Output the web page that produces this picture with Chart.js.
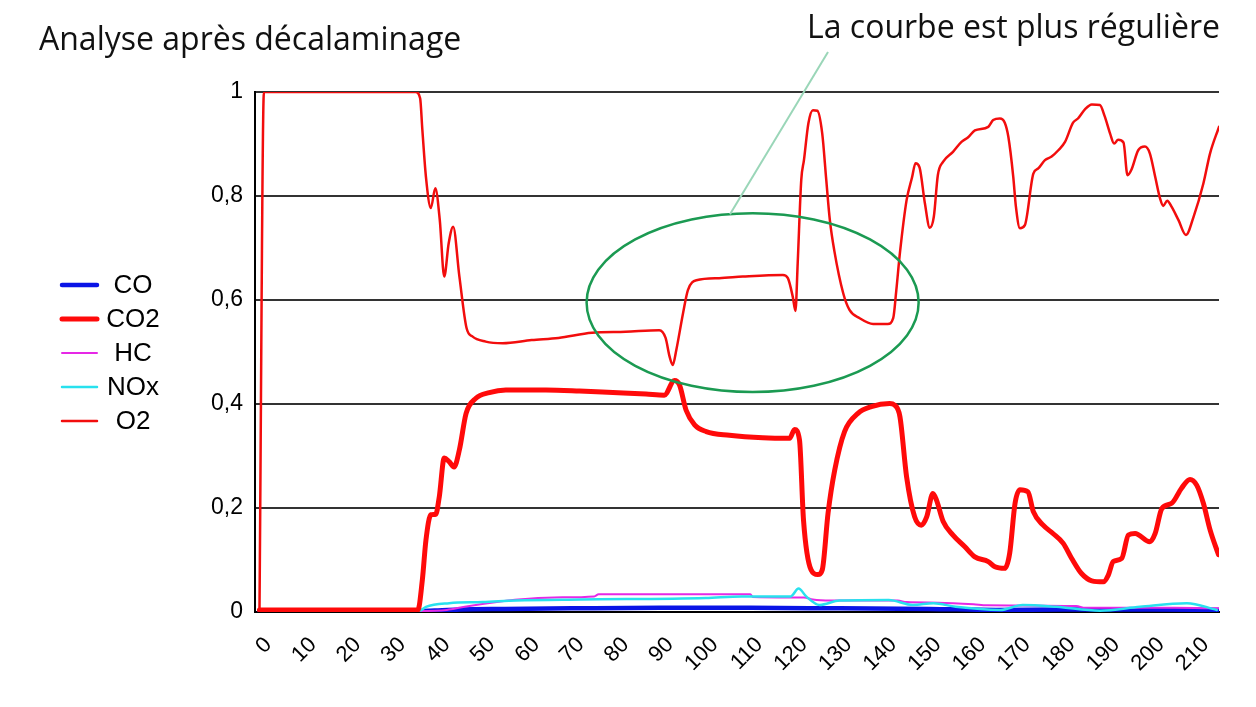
<!DOCTYPE html>
<html>
<head>
<meta charset="utf-8">
<script src="https://cdn.jsdelivr.net/npm/chart.js@4.4.0/dist/chart.umd.min.js"></script>
<style>
  body { margin: 0; background: #fff; }
  #wrap { position: relative; width: 1256px; height: 707px; }
  .note { position: absolute; font-family: "Open Sans", sans-serif; font-size: 32px; color: #111; white-space: nowrap; }
</style>
</head>
<body>
<div id="wrap">
  <canvas id="chart"></canvas>
  <div class="note" style="left:39px; top:16px">Analyse après décalaminage</div>
  <div class="note" style="left:807px; top:4px">La courbe est plus régulière</div>
</div>
<script>
// time (s) / value pairs
const xTicks = [0, 10, 20, 30, 40, 50, 60, 70, 80, 90, 100, 110, 120, 130, 140, 150, 160, 170, 180, 190, 200, 210];
const yTicks = [0, 0.2, 0.4, 0.6, 0.8, 1];

const co = [[0, 0.002], [36, 0.002], [40, 0.003], [45, 0.005], [55, 0.006], [70, 0.007], [90, 0.008],
  [110, 0.008], [130, 0.007], [150, 0.006], [165, 0.004], [180, 0.005], [200, 0.005], [215, 0.004]];

const co2 = [[0, 0.004], [35.5, 0.004], [36.5, 0.062], [37.3, 0.138], [38.4, 0.187], [39.5, 0.188], [40.3, 0.222],
  [41.4, 0.296], [42.5, 0.289], [43.6, 0.279], [44.8, 0.312], [46.3, 0.382], [48.5, 0.411], [51.5, 0.422],
  [55.2, 0.427], [64.2, 0.427], [71.7, 0.425], [79.2, 0.422], [86.6, 0.419], [90.7, 0.417], [93, 0.445],
  [94.1, 0.437], [95.6, 0.388], [97.5, 0.36], [100.1, 0.347], [105.3, 0.34], [112.8, 0.335], [118.8, 0.334],
  [119.9, 0.351], [121, 0.331], [121.9, 0.177], [123.6, 0.081], [125.1, 0.072], [126.1, 0.081], [127.4, 0.19],
  [128.9, 0.273], [131.1, 0.347], [134.1, 0.382], [137.1, 0.395], [141.2, 0.401], [142.3, 0.398], [143.5, 0.376],
  [145, 0.26], [146.8, 0.183], [148.3, 0.167], [149.5, 0.183], [150.9, 0.228], [151.7, 0.215], [153.2, 0.174],
  [155.4, 0.148], [158, 0.126], [160.3, 0.106], [163.3, 0.097], [164.8, 0.087], [167, 0.084], [168.1, 0.113],
  [169.3, 0.209], [170.4, 0.235], [172.2, 0.231], [173.4, 0.193], [175.6, 0.167], [177.8, 0.151], [180.1, 0.132],
  [182, 0.103], [184.2, 0.074], [186.5, 0.06], [189.1, 0.058], [190.2, 0.071], [191.3, 0.097], [193.2, 0.103],
  [194.7, 0.148], [196.2, 0.151], [199.5, 0.135], [200.7, 0.151], [202.2, 0.199], [204.4, 0.209], [206.6, 0.238],
  [208.5, 0.255], [210, 0.244], [211.5, 0.209], [213, 0.158], [214.9, 0.11]];

const hc = [[0, 0.002], [36, 0.002], [42, 0.004], [46, 0.01], [54, 0.02], [58, 0.024], [66, 0.028], [75, 0.03],
  [76, 0.034], [110, 0.034], [110.5, 0.029], [122, 0.028], [124, 0.024], [128, 0.022], [143, 0.022], [145, 0.019],
  [152, 0.018], [160, 0.015], [163, 0.013], [183, 0.0115], [185, 0.008], [205, 0.008], [215, 0.007]];

const nox = [[0, 0.003], [36, 0.003], [37.3, 0.01], [42.5, 0.017], [50, 0.019], [57.5, 0.022], [72, 0.024],
  [100, 0.027], [108, 0.03], [119, 0.03], [120.8, 0.045], [122.5, 0.03], [125.5, 0.0135], [130, 0.022],
  [141, 0.023], [146.4, 0.0135], [151, 0.017], [156, 0.01], [166, 0.004], [171, 0.0135], [178.6, 0.01],
  [188.3, 0.0025], [197.3, 0.01], [207.8, 0.017], [214.5, 0.004]];

const o2 = [[0, 0], [1, 1], [35, 1], [36, 0.988], [36.5, 0.927], [37.3, 0.837], [38.4, 0.777], [39.4, 0.815],
  [40.4, 0.754], [41.4, 0.645], [42.4, 0.709], [43.4, 0.741], [44.8, 0.645], [46.4, 0.546], [47.7, 0.53],
  [50.7, 0.52], [54.5, 0.517], [61, 0.523], [67, 0.527], [74.5, 0.537], [82, 0.539], [89.6, 0.542], [91, 0.527],
  [91.9, 0.491], [92.6, 0.475], [93.4, 0.504], [94.9, 0.574], [96, 0.619], [97.9, 0.638], [103, 0.642],
  [108.3, 0.645], [117.3, 0.648], [118.4, 0.642], [119.5, 0.606], [120.1, 0.579], [120.6, 0.671], [121.4, 0.831],
  [122, 0.869], [123, 0.94], [124, 0.965], [125, 0.964], [126.1, 0.92], [127, 0.831], [127.8, 0.754],
  [128.8, 0.695], [130.8, 0.613], [132.2, 0.581], [134.5, 0.565], [137.5, 0.554], [140.8, 0.554], [142, 0.565],
  [142.7, 0.619], [143.5, 0.69], [145, 0.792], [146.2, 0.835], [147, 0.863], [147.9, 0.855], [149.1, 0.786],
  [150.2, 0.739], [151.1, 0.76], [152, 0.84], [153.2, 0.866], [155.4, 0.885], [157.3, 0.904], [158.8, 0.913],
  [160.3, 0.926], [163.3, 0.933], [164.4, 0.946], [165.9, 0.949], [167, 0.941], [167.8, 0.914], [168.9, 0.837],
  [169.5, 0.779], [170.4, 0.738], [171.5, 0.744], [173.4, 0.843], [174.5, 0.853], [176, 0.869], [177.5, 0.876],
  [179, 0.888], [180.5, 0.904], [182.3, 0.941], [183.4, 0.949], [185, 0.967], [186.5, 0.976], [188.3, 0.975],
  [189.4, 0.953], [190.6, 0.92], [191.5, 0.901], [192.4, 0.908], [193.6, 0.903], [194.5, 0.84], [195.4, 0.851],
  [196.9, 0.888], [198.4, 0.895], [199.5, 0.882], [200.7, 0.837], [201.8, 0.795], [202.5, 0.781], [203.4, 0.791],
  [204.4, 0.779], [205.9, 0.754], [207.6, 0.725], [209.3, 0.76], [211.5, 0.824], [213, 0.882], [215, 0.933]];

const pts = arr => arr.map(p => ({ x: p[0], y: p[1] }));

// green ring around the steadier part of the O2 curve (data units)
const ring = { t: 110.5, v: 0.595, rt: 37.2, rv: 0.172 };

const ringPlugin = {
  id: 'ring',
  afterDatasetsDraw(chart) {
    const { x, y } = chart.scales;
    const c = chart.ctx;
    const cx = x.getPixelForValue(ring.t), cy = y.getPixelForValue(ring.v);
    const rx = x.getPixelForValue(ring.t + ring.rt) - cx;
    const ry = cy - y.getPixelForValue(ring.v + ring.rv);
    c.save();
    c.strokeStyle = '#1b9a52';
    c.lineWidth = 2.5;
    c.beginPath();
    c.ellipse(cx, cy, rx, ry, 0, 0, Math.PI * 2);
    c.stroke();
    // leader towards the caption
    c.strokeStyle = '#9ad6b8';
    c.lineWidth = 2;
    c.beginPath();
    c.moveTo(730, cy - ry + 1);
    c.lineTo(828, 52);
    c.stroke();
    c.restore();
  }
};

const sideLegend = {
  id: 'sideLegend',
  afterDraw(chart) {
    const c = chart.ctx;
    c.save();
    chart.data.datasets.forEach((ds, i) => {
      const yy = 285 + i * 34;
      c.strokeStyle = ds.borderColor;
      c.lineWidth = ds.borderWidth;
      c.lineCap = 'round';
      c.beginPath();
      c.moveTo(62, yy);
      c.lineTo(97, yy);
      c.stroke();
      c.fillStyle = '#000';
      c.font = '26px "Liberation Sans"';
      c.textAlign = 'center';
      c.textBaseline = 'middle';
      c.fillText(ds.label, 133, yy + 1);
    });
    c.restore();
  }
};

new Chart(document.getElementById('chart'), {
  type: 'line',
  data: {
    datasets: [
      { label: 'CO', data: pts(co), borderColor: '#0a14e6', borderWidth: 4.5, order: 4 },
      { label: 'CO2', data: pts(co2), borderColor: '#ff0a0a', borderWidth: 5, order: 0 },
      { label: 'HC', data: pts(hc), borderColor: '#e628e6', borderWidth: 2, order: 3 },
      { label: 'NOx', data: pts(nox), borderColor: '#28e1ee', borderWidth: 2.5, order: 2 },
      { label: 'O2', data: pts(o2), borderColor: '#f20d0d', borderWidth: 2.5, order: 1 }
    ]
  },
  options: {
    responsive: true,
    maintainAspectRatio: false,
    animation: false,
    layout: { padding: { left: 195, top: 92, right: 37, bottom: 10 } },
    elements: {
      point: { radius: 0 },
      line: { cubicInterpolationMode: 'monotone', borderJoinStyle: 'round', borderCapStyle: 'round' }
    },
    plugins: { legend: { display: false }, tooltip: { enabled: false } },
    scales: {
      x: {
        type: 'linear',
        min: -1,
        max: 215,
        afterBuildTicks: s => { s.ticks = xTicks.map(v => ({ value: v })); },
        afterFit: s => { s.height = 85; },
        grid: { display: false, drawTicks: false },
        border: { color: '#000', width: 2 },
        ticks: {
          minRotation: 45, maxRotation: 45, color: '#000',
          font: { family: 'Liberation Sans', size: 22 }, padding: 20, labelOffset: 9
        }
      },
      y: {
        min: 0,
        max: 1,
        afterBuildTicks: s => { s.ticks = yTicks.map(v => ({ value: v })); },
        afterFit: s => { s.width = 60; },
        grid: { color: '#333', lineWidth: 2, drawTicks: false },
        border: { color: '#000', width: 2 },
        ticks: {
          color: '#000',
          font: { family: 'Liberation Sans', size: 23 },
          padding: 12,
          callback: v => (v === 0 || v === 1) ? String(v) : v.toFixed(1).replace('.', ',')
        }
      }
    }
  },
  plugins: [ringPlugin, sideLegend]
});
</script>
</body>
</html>
